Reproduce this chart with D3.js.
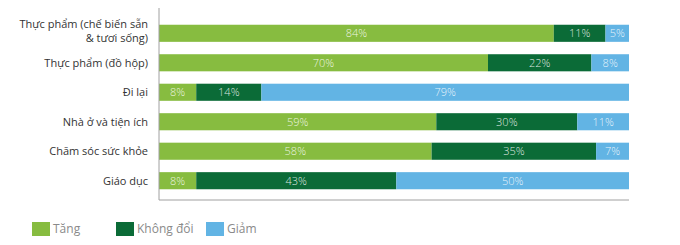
<!DOCTYPE html>
<html>
<head>
<meta charset="utf-8">
<script src="https://cdn.jsdelivr.net/npm/d3@7"></script>
<style>
  body { margin: 0; background: #fff; }
  svg { display: block; font-family: "Open Sans", "DejaVu Sans", sans-serif; }
</style>
</head>
<body>
<div id="chart"></div>
<script>
// data
let categories = ["Thực phẩm (chế biến sẵn\n& tươi sống)", "Thực phẩm (đồ hộp)", "Đi lại",
  "Nhà ở và tiện ích", "Chăm sóc sức khỏe", "Giáo dục"];
let tang = [84, 70, 8, 59, 58, 8];
let khongDoi = [11, 22, 14, 30, 35, 43];
let giam = [5, 8, 79, 11, 7, 50];
let seriesNames = ["Tăng", "Không đổi", "Giảm"];
let seriesKeys = ["tang", "khongDoi", "giam"];
let colors = ["#87bc40", "#0b6b37", "#62b4e4"];

let rows = categories.map(function (c, i) {
  return { cat: c, tang: tang[i], khongDoi: khongDoi[i], giam: giam[i] };
});

let w = 680, h = 245;
let plotLeft = 159, plotRight = 629, plotTop = 8, plotBottom = 200;

let svg = d3.select("#chart").append("svg")
  .attr("width", w)
  .attr("height", h);

// rows that add up to 101 still fill the full width
let stack = d3.stack().keys(seriesKeys).offset(d3.stackOffsetExpand);
let stacked = stack(rows);

let xScale = d3.scaleLinear().domain([0, 1]).range([plotLeft, plotRight]);
let yScale = d3.scaleBand()
  .domain(categories)
  .range([10, 204])
  .paddingInner(0.42)
  .paddingOuter(0.5);

let layers = svg.selectAll(".layer")
  .data(stacked)
  .enter()
  .append("g")
  .attr("class", "layer")
  .attr("fill", function (d, i) { return colors[i]; });

layers.selectAll("rect")
  .data(function (d) { return d; })
  .enter()
  .append("rect")
  .attr("x", function (d) { return xScale(d[0]); })
  .attr("y", function (d) { return yScale(d.data.cat); })
  .attr("width", function (d) { return xScale(d[1]) - xScale(d[0]); })
  .attr("height", yScale.bandwidth());

// value labels
layers.each(function (layer) {
  d3.select(this).selectAll("text")
    .data(layer)
    .enter()
    .append("text")
    .attr("x", function (d) { return (xScale(d[0]) + xScale(d[1])) / 2; })
    .attr("y", function (d) { return yScale(d.data.cat) + yScale.bandwidth() / 2; })
    .attr("dy", "0.35em")
    .attr("text-anchor", "middle")
    .attr("font-size", 11)
    .attr("font-weight", 300)
    .attr("fill", "#ffffff")
    .attr("fill-opacity", 0.85)
    .text(function (d) { return d.data[layer.key] + "%"; });
});

// axis lines
svg.append("line")
  .attr("x1", plotLeft).attr("x2", plotLeft)
  .attr("y1", plotTop).attr("y2", plotBottom)
  .attr("stroke", "#a0a0a0");
svg.append("line")
  .attr("x1", plotLeft).attr("x2", plotRight)
  .attr("y1", plotBottom).attr("y2", plotBottom)
  .attr("stroke", "#a0a0a0");

// category labels
let catLabels = svg.selectAll(".cat")
  .data(categories)
  .enter()
  .append("text")
  .attr("class", "cat")
  .attr("text-anchor", "end")
  .attr("font-size", 11)
  .attr("fill", "#333");
catLabels.each(function (c) {
  let lines = c.split("\n");
  let yc = yScale(c) + yScale.bandwidth() / 2;
  let t = d3.select(this);
  lines.forEach(function (line, j) {
    t.append("tspan")
      .attr("x", 148)
      .attr("y", yc + (j - (lines.length - 1) / 2) * 14 - (lines.length > 1 ? 2 : 0))
      .attr("dy", "0.35em")
      .text(line);
  });
});

// legend
let legendX = [32, 116, 206];
let legend = svg.selectAll(".legend")
  .data(seriesNames)
  .enter()
  .append("g")
  .attr("class", "legend")
  .attr("transform", function (d, i) { return "translate(" + legendX[i] + ",222)"; });
legend.append("rect")
  .attr("width", 18)
  .attr("height", 14)
  .attr("fill", function (d, i) { return colors[i]; });
legend.append("text")
  .attr("x", 21)
  .attr("y", 7)
  .attr("dy", "0.35em")
  .attr("font-size", 12)
  .attr("fill", "#8a8a8a")
  .text(function (d) { return d; });
</script>
</body>
</html>
